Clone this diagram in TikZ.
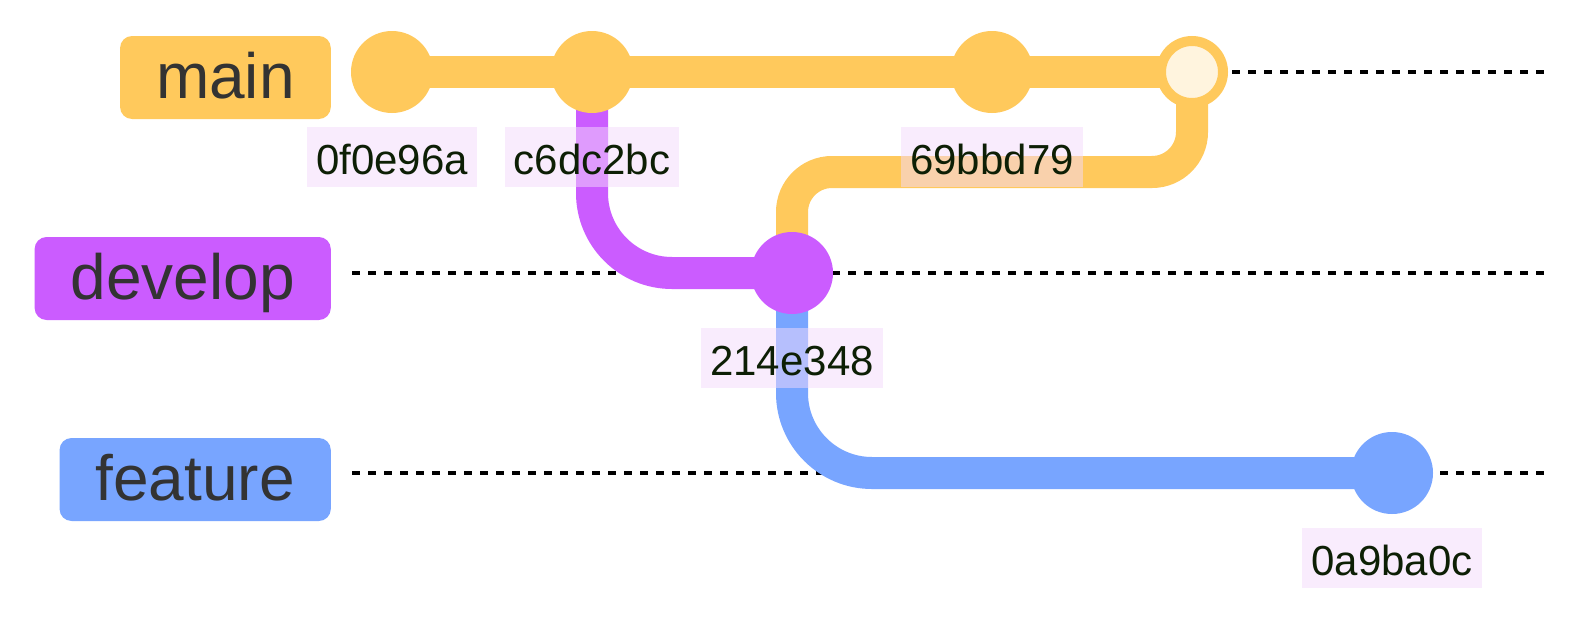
\documentclass[tikz,border=0pt]{standalone}
\usepackage{fontspec}
\setmainfont{Liberation Sans}
\definecolor{gyel}{HTML}{FFC95C}
\definecolor{gpur}{HTML}{CB5CFF}
\definecolor{gblu}{HTML}{78A5FF}
\definecolor{mergein}{HTML}{FFF4DE}
\definecolor{lblbg}{HTML}{F4DAFC}
\definecolor{lbltxt}{HTML}{0D1F05}
\definecolor{brtxt}{HTML}{333333}
\pgfdeclarelayer{dashlayer}
\pgfdeclarelayer{linelayer}
\pgfsetlayers{dashlayer,linelayer,main}
\begin{document}
\begin{tikzpicture}[x=1pt,y=-1pt,
  commit/.style={circle,inner sep=0pt,minimum size=82pt,fill=#1},
  mergecommit/.style={circle,inner sep=0pt,minimum size=62pt,draw=#1,line width=10pt,fill=mergein},
  branchline/.style={line width=32pt,draw=#1},
  refline/.style={line width=4pt,dash pattern=on 8pt off 8pt,draw=black},
  brlabel/.style={rounded corners=12pt,fill=#1,text=brtxt,font=\fontsize{64}{70}\selectfont,inner xsep=36pt,inner ysep=0pt,minimum height=83pt,text height=46pt,text depth=4pt,anchor=east},
  clabel/.style={fill=lblbg,fill opacity=0.5,text opacity=1,text=lbltxt,font=\fontsize{42}{48}\selectfont,inner xsep=9pt,inner ysep=0pt,minimum height=60pt,text height=36pt,text depth=2pt}
]
\useasboundingbox (0,0) rectangle (1584,616);

% branch labels
\node[brlabel=gyel] (bmain) at (331,77.5) {main};
\node[brlabel=gpur] (bdev) at (331,278.5) {develop};
\node[brlabel=gblu] (bfeat) at (331,479.5) {feature};

% commits
\node[commit=gyel] (c1) at (392,72) {};
\node[commit=gyel] (c2) at (592,72) {};
\node[commit=gyel] (c3) at (992,72) {};
\node[mergecommit=gyel] (m) at (1192,72) {};
\node[commit=gpur] (d1) at (792,273) {};
\node[commit=gblu] (f1) at (1392,473) {};

% reference lines
\coordinate (ms) at (352,72);  \coordinate (me) at (1546,72);
\coordinate (ds) at (352,273); \coordinate (de) at (1546,273);
\coordinate (fs) at (352,473); \coordinate (fe) at (1546,473);
\coordinate (mj) at (992,172);
\begin{pgfonlayer}{dashlayer}
\fill[white] (0,0) rectangle (1584,616);
\draw[refline] (ms) -- (me);
\draw[refline] (ds) -- (de);
\draw[refline] (fs) -- (fe);
\end{pgfonlayer}

\begin{pgfonlayer}{linelayer}
\draw[branchline=gyel] (c1.center) -- (m.center);
\draw[branchline=gpur,rounded corners=80pt] (c2.center) |- (d1.center);
\draw[branchline=gyel,rounded corners=40pt] (d1.center) |- (mj) -| (m.center);
\draw[branchline=gblu,rounded corners=80pt] (d1.center) |- (f1.center);
\end{pgfonlayer}

% commit labels
\node[clabel] (l1) at ([yshift=-85pt]c1.center) {0f0e96a};
\node[clabel] (l2) at ([yshift=-85pt]c2.center) {c6dc2bc};
\node[clabel] (l3) at ([yshift=-85pt]c3.center) {69bbd79};
\node[clabel] (l4) at ([yshift=-85pt]d1.center) {214e348};
\node[clabel] (l5) at ([yshift=-85pt]f1.center) {0a9ba0c};
\end{tikzpicture}
\end{document}
